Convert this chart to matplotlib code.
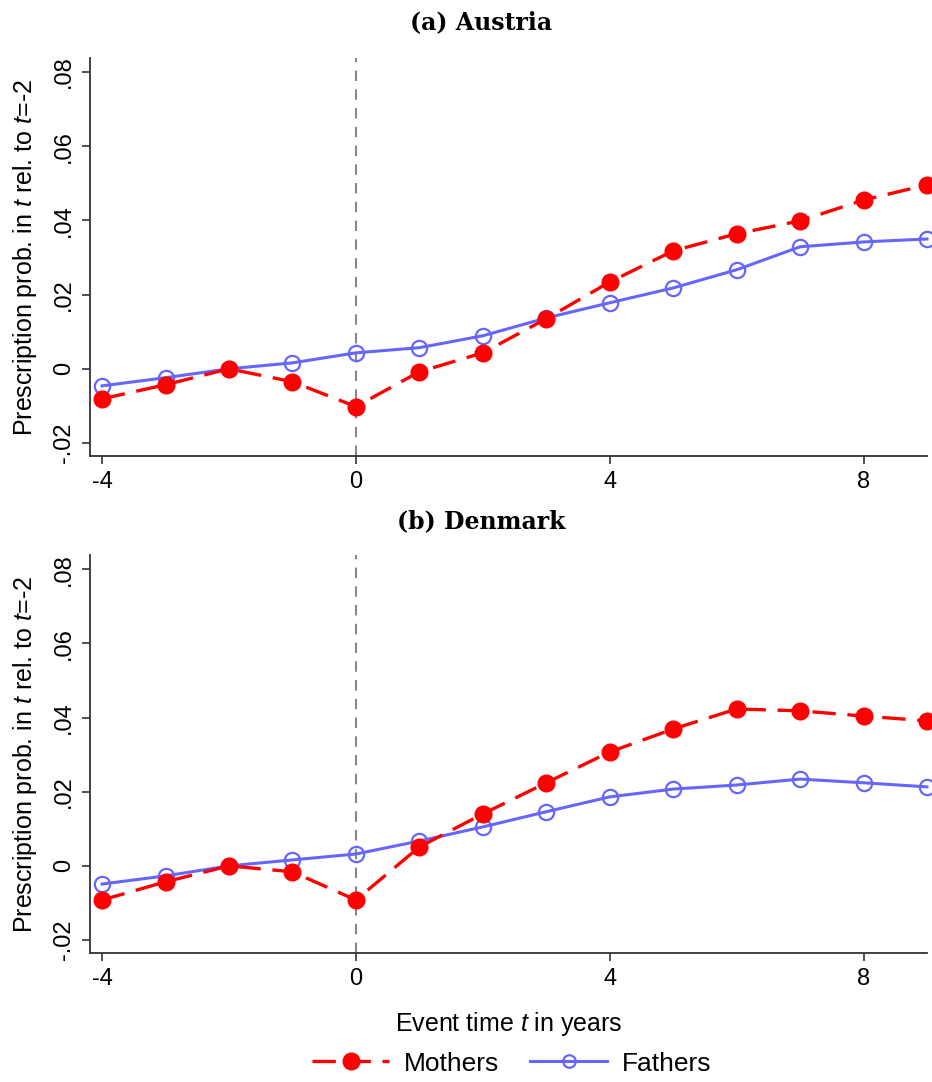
import matplotlib
matplotlib.use("Agg")
import matplotlib.pyplot as plt
from matplotlib.lines import Line2D

plt.rcParams['font.family'] = ['Liberation Sans', 'DejaVu Sans']
plt.rcParams['mathtext.fontset'] = 'custom'
plt.rcParams['mathtext.rm'] = 'Liberation Sans'
plt.rcParams['mathtext.it'] = 'Liberation Sans:italic'

event_time = [-4, -3, -2, -1, 0, 1, 2, 3, 4, 5, 6, 7, 8, 9]

austria_mothers = [-0.0081, -0.0043, 0.0, -0.0035, -0.0102, -0.0008, 0.0043, 0.0135,
                   0.0234, 0.0318, 0.0364, 0.0399, 0.0455, 0.0496]
austria_fathers = [-0.0046, -0.0024, 0.0, 0.0016, 0.0043, 0.0057, 0.0089, 0.0137,
                   0.0178, 0.0218, 0.0267, 0.0329, 0.0342, 0.0350]

denmark_mothers = [-0.0092, -0.0043, 0.0, -0.0016, -0.0092, 0.0051, 0.0140, 0.0224,
                   0.0307, 0.0369, 0.0423, 0.0418, 0.0404, 0.0391]
denmark_fathers = [-0.0049, -0.0027, 0.0, 0.0016, 0.0032, 0.0067, 0.0105, 0.0146,
                   0.0186, 0.0207, 0.0218, 0.0234, 0.0224, 0.0213]

panel_titles = ["(a) Austria", "(b) Denmark"]
xticks = [-4, 0, 4, 8]
yticks = [-0.02, 0.0, 0.02, 0.04, 0.06, 0.08]
ytick_labels = ["-.02", "0", ".02", ".04", ".06", ".08"]

RED = "#ff0000"
BLUE = "#6666ff"

fig = plt.figure(figsize=(9.32, 10.82), dpi=100)
axes_pos = [[0.0966, 0.5786, 0.898, 0.3678], [0.0966, 0.1192, 0.898, 0.3678]]
title_y = [1 - 22 / 1082, 1 - 521 / 1082]
panels = [(austria_mothers, austria_fathers), (denmark_mothers, denmark_fathers)]

for pos, ty, title, (mo, fa) in zip(axes_pos, title_y, panel_titles, panels):
    ax = fig.add_axes(pos)
    ax.axvline(0, color="#888888", linestyle=(0, (5, 4)), linewidth=1.5, zorder=1)
    ax.plot(event_time, fa, color=BLUE, linewidth=2.2, marker='o', markersize=11,
            markerfacecolor='none', markeredgecolor=BLUE, markeredgewidth=1.6,
            zorder=3, clip_on=False)
    ax.plot(event_time, mo, color=RED, linewidth=2.4, linestyle=(0, (7, 3.5)),
            marker='o', markersize=12, markerfacecolor=RED, markeredgecolor=RED,
            zorder=4, clip_on=False)
    ax.set_xlim(-4.19, 9.0)
    ax.set_ylim(-0.0235, 0.0838)
    ax.set_xticks(xticks)
    ax.set_xticklabels([str(v) for v in xticks], fontsize=17)
    ax.set_yticks(yticks)
    ax.set_yticklabels(ytick_labels, fontsize=17, rotation=90, va='center')
    ax.tick_params(direction='out', length=6, width=1.2, color='#333333', pad=5)
    for s in ['top', 'right']:
        ax.spines[s].set_visible(False)
    for s in ['left', 'bottom']:
        ax.spines[s].set_linewidth(1.3)
        ax.spines[s].set_color('#333333')
    ax.set_ylabel(r"Prescription prob. in $t$ rel. to $t$=-2", fontsize=18, labelpad=10)
    fig.text(0.516, ty, title, fontsize=17, fontweight='bold', family='DejaVu Serif',
             ha='center', va='center')
    last_ax = ax

last_ax.set_xlabel(r"Event time $t$ in years", fontsize=18, labelpad=14)

handles = [
    Line2D([], [], color=RED, linewidth=2.4, linestyle=(0, (7, 3.5)), marker='o',
           markersize=12, markerfacecolor=RED, markeredgecolor=RED),
    Line2D([], [], color=BLUE, linewidth=2.2, marker='o', markersize=9,
           markerfacecolor='none', markeredgecolor=BLUE, markeredgewidth=1.6),
]
fig.legend(handles, ["Mothers", "Fathers"], loc='center', bbox_to_anchor=(0.549, 0.017),
           ncol=2, frameon=False, fontsize=19, handlelength=2.9, columnspacing=1.2,
           handletextpad=0.55)

fig.savefig("out.png", dpi=100, facecolor='white')
